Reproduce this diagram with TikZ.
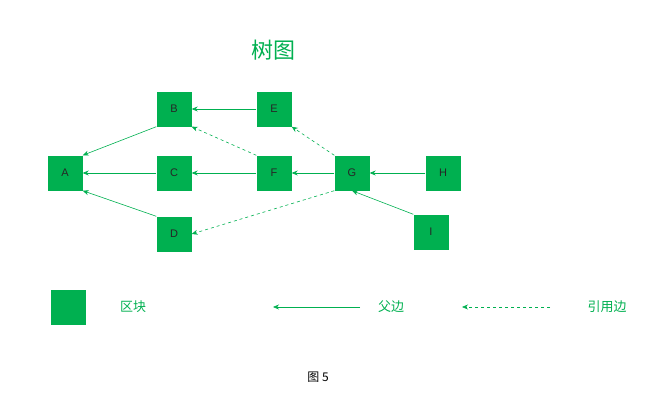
\documentclass[tikz,border=0pt]{standalone}
\usepackage{fontspec}
\setmainfont{Liberation Sans}
\newfontfamily\cjk{Noto Sans CJK SC}
\usetikzlibrary{arrows.meta}
\definecolor{gr}{HTML}{00B050}
\begin{document}
\begin{tikzpicture}[x=1pt,y=-1pt,
  blk/.style={draw=none,fill=gr,minimum size=35pt,inner sep=0pt,font=\fontsize{11}{13}\selectfont,text=black!85},
  par/.style={draw=gr,-{Stealth[length=6pt,width=5pt]},line width=0.6pt},
  ref/.style={par,dashed},
  lab/.style={text=gr,font=\cjk\fontsize{13}{15}\selectfont}]
\useasboundingbox (0,0) rectangle (648,404);
\node[text=gr,font=\cjk\fontsize{22}{26}\selectfont] (t) at (273,50) {树图};
\node[blk] (A) at (65,173) {A};
\node[blk] (B) at (174,109) {B};
\node[blk] (C) at (174,173) {C};
\node[blk] (D) at (174,234) {D};
\node[blk] (E) at (274,109) {E};
\node[blk] (F) at (274,173) {F};
\node[blk] (G) at (352,173) {G};
\node[blk] (H) at (443,173) {H};
\node[blk] (I) at (431,232) {I};
\draw[par] (B.south west) -- (A.north east);
\draw[par] (C) -- (A);
\draw[par] (D.north west) -- (A.south east);
\draw[par] (E) -- (B);
\draw[par] (F) -- (C);
\draw[ref] (F.north west) -- (B.south east);
\draw[par] (G) -- (F);
\draw[ref] (G.north west) -- (E.south east);
\draw[ref] (G.south west) -- (D.east);
\draw[par] (H) -- (G);
\draw[par] (I.north west) -- (G.south);
\node[blk] (L) at (68,307) {};
\node[lab] (l1) at (133,307) {区块};
\coordinate (p1) at (360,307); \coordinate (p2) at (273,307);
\draw[par] (p1) -- (p2);
\node[lab] (l2) at (391,307) {父边};
\coordinate (r1) at (550,307); \coordinate (r2) at (462,307);
\draw[ref] (r1) -- (r2);
\node[lab] (l3) at (607,307) {引用边};
\node[font=\cjk\fontsize{12}{14}\selectfont] (cap) at (318,377) {图 5};
\end{tikzpicture}
\end{document}
